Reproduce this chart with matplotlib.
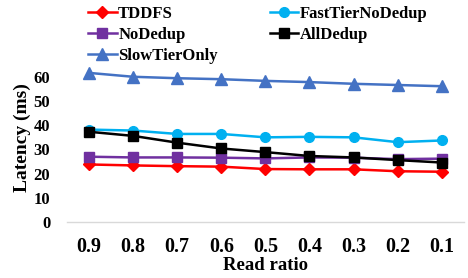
import numpy as np
import matplotlib.pyplot as plt

read_ratio = ["0.9", "0.8", "0.7", "0.6", "0.5", "0.4", "0.3", "0.2", "0.1"]
tddfs = [23.8, 23.4, 23.1, 22.9, 21.9, 21.8, 21.8, 21.0, 20.8]
fast_tier_no_dedup = [38.2, 37.8, 36.4, 36.4, 35.0, 35.2, 35.0, 33.0, 33.7]
no_dedup = [27.0, 26.7, 26.7, 26.6, 26.3, 26.7, 26.6, 26.0, 26.2]
all_dedup = [37.3, 35.6, 32.8, 30.4, 28.9, 27.3, 26.7, 25.6, 24.6]
slow_tier_only = [61.6, 60.0, 59.4, 59.0, 58.3, 57.8, 57.1, 56.6, 56.1]

plt.rcParams['font.family'] = ['Liberation Serif', 'DejaVu Serif']
plt.rcParams['font.weight'] = 'bold'

fig = plt.figure(figsize=(4.68, 2.78), dpi=100)
ax = fig.add_axes([0.143, 0.201, 0.848, 0.61])

x = np.arange(len(read_ratio)) + 0.5
l1, = ax.plot(x, tddfs, color='#FF0000', marker='D', markersize=6, lw=1.8, label='TDDFS')
l2, = ax.plot(x, fast_tier_no_dedup, color='#00B0F0', marker='o', markersize=7, lw=1.8, label='FastTierNoDedup')
l3, = ax.plot(x, no_dedup, color='#7030A0', marker='s', markersize=7, lw=1.8, label='NoDedup')
l4, = ax.plot(x, all_dedup, color='#000000', marker='s', markersize=7, lw=1.8, label='AllDedup')
l5, = ax.plot(x, slow_tier_only, color='#4472C4', marker='^', markersize=8, lw=1.8, label='SlowTierOnly')

ax.set_xlim(0, len(read_ratio))
ax.set_ylim(0, 70)
ax.set_yticks(range(0, 70, 10))
ax.set_xticks(x)
ax.set_xticklabels(read_ratio)
ax.tick_params(axis='x', length=0, pad=11, labelsize=14.5)
ax.tick_params(axis='y', length=0, pad=12, labelsize=12)
for s in ['top', 'right', 'left']:
    ax.spines[s].set_visible(False)
ax.spines['bottom'].set_color('#D9D9D9')
ax.spines['bottom'].set_linewidth(1.0)

ax.set_xlabel('Read ratio', fontsize=13.5, fontweight='bold', labelpad=0)
ax.set_ylabel('Latency (ms)', fontsize=14, fontweight='bold', labelpad=2)

# fill order is column-wise, so reorder to read row-wise like the original
handles = [l1, l3, l5, l2, l4]
fig.legend(handles, [h.get_label() for h in handles], loc='upper left',
           bbox_to_anchor=(0.185, 0.985), ncol=2, frameon=False,
           fontsize=12, handlelength=1.7, handletextpad=0.1, columnspacing=3.1,
           labelspacing=0.3, borderaxespad=0, borderpad=0.1)

fig.savefig('out.png', dpi=100)
